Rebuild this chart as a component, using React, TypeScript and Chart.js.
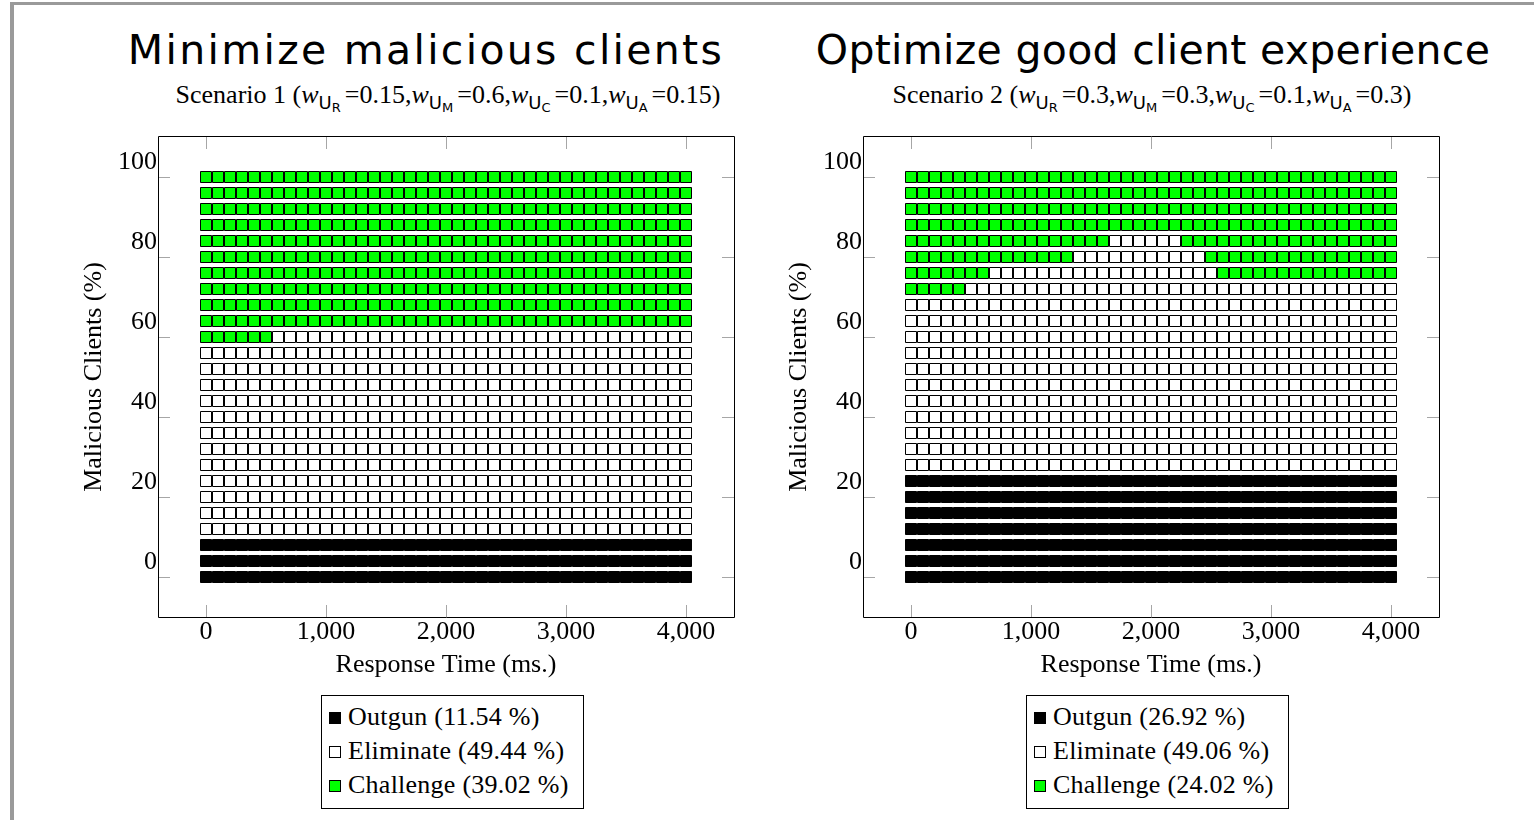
import React, { useEffect, useRef } from "react";
import { Chart, registerables } from "chart.js";

Chart.register(...registerables);

// ---------- data ----------
const responseTimes = [
  0, 100, 200, 300, 400, 500, 600, 700, 800, 900, 1000, 1100, 1200, 1300, 1400,
  1500, 1600, 1700, 1800, 1900, 2000, 2100, 2200, 2300, 2400, 2500, 2600, 2700,
  2800, 2900, 3000, 3100, 3200, 3300, 3400, 3500, 3600, 3700, 3800, 3900, 4000,
];
const maliciousLevels = [
  0, 4, 8, 12, 16, 20, 24, 28, 32, 36, 40, 44, 48, 52, 56, 60, 64, 68, 72, 76,
  80, 84, 88, 92, 96, 100,
];
const xTickValues = [0, 1000, 2000, 3000, 4000];
const yTickValues = [0, 20, 40, 60, 80, 100];

const categoryNames = ["Outgun", "Eliminate", "Challenge"];
const categoryCodes = ["O", "E", "C"];
const categoryColors = ["#000000", "#ffffff", "#00ff00"];

// rows listed from y = 0 up to y = 100; runs of cells along the response times
const scenario1Rows = [
  "O41", "O41", "O41",
  "E41", "E41", "E41", "E41", "E41", "E41", "E41", "E41", "E41", "E41", "E41", "E41",
  "C6 E35",
  "C41", "C41", "C41", "C41", "C41", "C41", "C41", "C41", "C41", "C41",
];
const scenario2Rows = [
  "O41", "O41", "O41", "O41", "O41", "O41", "O41",
  "E41", "E41", "E41", "E41", "E41", "E41", "E41", "E41", "E41", "E41", "E41",
  "C5 E36",
  "C7 E19 C15",
  "C14 E11 C16",
  "C17 E6 C18",
  "C41", "C41", "C41", "C41",
];

const titles = ["Minimize malicious clients", "Optimize good client experience"];
const scenarioNames = ["Scenario 1", "Scenario 2"];
const weightSubscripts = ["R", "M", "C", "A"];
const scenario1Weights = ["0.15", "0.6", "0.1", "0.15"];
const scenario2Weights = ["0.3", "0.3", "0.1", "0.3"];

const xAxisTitle = "Response Time (ms.)";
const yAxisTitle = "Malicious Clients (%)";

// ---------- helpers ----------
function decodeRow(spec: string): string[] {
  const out: string[] = [];
  spec.split(" ").forEach((run) => {
    const code = run[0];
    const n = parseInt(run.slice(1), 10);
    for (let i = 0; i < n; i++) out.push(code);
  });
  return out;
}

function buildDatasets(rows: string[]) {
  const grid = rows.map(decodeRow);
  return categoryCodes.map((code, ci) => {
    const data: { x: number; y: number }[] = [];
    grid.forEach((row, ri) => {
      row.forEach((c, xi) => {
        if (c === code) data.push({ x: responseTimes[xi], y: maliciousLevels[ri] });
      });
    });
    return {
      label: categoryNames[ci],
      data,
      pointStyle: "rect" as const,
      pointRadius: 5.5 / Math.SQRT1_2,
      pointHoverRadius: 5.5 / Math.SQRT1_2,
      pointBorderWidth: 1,
      pointHoverBorderWidth: 1,
      borderColor: "#000000",
      backgroundColor: categoryColors[ci],
      pointBackgroundColor: categoryColors[ci],
      pointBorderColor: "#000000",
      showLine: false,
    };
  });
}

function shares(rows: string[]) {
  const grid = rows.map(decodeRow);
  const total = grid.reduce((s, r) => s + r.length, 0);
  return categoryCodes.map((code) => {
    const n = grid.reduce((s, r) => s + r.filter((c) => c === code).length, 0);
    return ((n / total) * 100).toFixed(2);
  });
}

const SERIF = '"Liberation Serif", "Times New Roman", serif';
const SANS = '"DejaVu Sans", sans-serif';

const framePlugin = {
  id: "frameTicks",
  afterDraw(chart: any) {
    const { ctx, chartArea } = chart;
    const { left, right, top, bottom } = chartArea;
    const xs = chart.scales.x;
    const ys = chart.scales.y;
    ctx.save();
    ctx.strokeStyle = "#a6a6a6";
    ctx.lineWidth = 1;
    ctx.beginPath();
    xTickValues.forEach((v) => {
      const px = Math.round(xs.getPixelForValue(v)) + 0.5;
      ctx.moveTo(px, bottom);
      ctx.lineTo(px, bottom - 12);
      ctx.moveTo(px, top);
      ctx.lineTo(px, top + 12);
    });
    yTickValues.forEach((v) => {
      const py = Math.round(ys.getPixelForValue(v)) + 0.5;
      ctx.moveTo(left, py);
      ctx.lineTo(left + 12, py);
      ctx.moveTo(right, py);
      ctx.lineTo(right - 12, py);
    });
    ctx.stroke();
    ctx.strokeStyle = "#000000";
    ctx.beginPath();
    ctx.rect(left + 0.5, top - 0.5, right - left, bottom - top + 1);
    ctx.stroke();
    ctx.restore();
  },
};

function HeatChart({ rows, left, top }: { rows: string[]; left: number; top: number }) {
  const ref = useRef<HTMLCanvasElement | null>(null);
  useEffect(() => {
    if (!ref.current) return;
    const tickFont = { family: SERIF, size: 26, lineHeight: 1 };
    const titleFont = { family: SERIF, size: 26, lineHeight: 1.2 };
    const chart = new Chart(ref.current, {
      type: "scatter",
      data: { datasets: buildDatasets(rows) as any },
      options: {
        animation: false,
        responsive: false,
        maintainAspectRatio: false,
        devicePixelRatio: 1,
        layout: { padding: { left: 0, right: 26, top: 17, bottom: 0 } },
        plugins: {
          legend: { display: false },
          tooltip: { enabled: false },
          title: { display: false },
        },
        events: [],
        scales: {
          x: {
            type: "linear",
            min: -400,
            max: 4400,
            afterBuildTicks: (s: any) => {
              s.ticks = xTickValues.map((v) => ({ value: v }));
            },
            afterFit: (s: any) => {
              s.height = 83;
            },
            grid: { display: false, drawTicks: false },
            border: { display: false },
            ticks: {
              font: tickFont,
              color: "#000000",
              padding: 2,
              autoSkip: false,
              maxRotation: 0,
              callback: (v: any) => Number(v).toLocaleString("en-US"),
            },
            title: {
              display: true,
              text: xAxisTitle,
              color: "#000000",
              font: titleFont,
              padding: { top: 0, bottom: 19 },
            },
          },
          y: {
            type: "linear",
            min: -10,
            max: 110,
            afterBuildTicks: (s: any) => {
              s.ticks = yTickValues.map((v) => ({ value: v }));
            },
            afterFit: (s: any) => {
              s.width = 98;
            },
            grid: { display: false, drawTicks: false },
            border: { display: false },
            ticks: {
              font: tickFont,
              color: "#000000",
              padding: 1,
              autoSkip: false,
              labelOffset: -15,
            },
            title: {
              display: true,
              text: yAxisTitle,
              color: "#000000",
              font: titleFont,
              padding: { top: 19, bottom: 0 },
            },
          },
        },
      },
      plugins: [framePlugin],
    });
    return () => chart.destroy();
  }, [rows]);
  return (
    <canvas
      ref={ref}
      width={700}
      height={580}
      style={{ position: "absolute", left, top, width: 700, height: 580 }}
    />
  );
}

function Subtitle({ name, weights, center }: { name: string; weights: string[]; center: number }) {
  return (
    <div
      style={{
        position: "absolute",
        left: center,
        top: 82,
        transform: "translateX(-50%)",
        whiteSpace: "nowrap",
        fontFamily: SERIF,
        fontSize: 26,
        lineHeight: "26px",
        color: "#000",
      }}
    >
      {name} (
      {weights.map((w, i) => (
        <span key={i}>
          <i>w</i>
          <span style={{ fontFamily: SANS, fontSize: 18, position: "relative", top: 6 }}>
            U
            <span style={{ fontSize: 13, position: "relative", top: 3 }}>{weightSubscripts[i]}</span>
          </span>
          <span style={{ marginLeft: 4 }}>={w}</span>
          {i < weights.length - 1 ? "," : ""}
        </span>
      ))}
      )
    </div>
  );
}

function Legend({ rows, left }: { rows: string[]; left: number }) {
  const pct = shares(rows);
  return (
    <div
      style={{
        position: "absolute",
        left,
        top: 695,
        width: 263,
        height: 114,
        boxSizing: "border-box",
        border: "1px solid #000",
        background: "#fff",
      }}
    >
      {categoryNames.map((n, i) => (
        <div
          key={n}
          style={{
            position: "absolute",
            left: 0,
            top: 3 + i * 34,
            height: 34,
            width: 260,
          }}
        >
          <div
            style={{
              position: "absolute",
              left: 7,
              top: 13,
              width: 12,
              height: 12,
              boxSizing: "border-box",
              border: "1px solid #000",
              background: categoryColors[i],
            }}
          />
          <div
            style={{
              position: "absolute",
              left: 26,
              top: 1,
              fontFamily: SERIF,
              fontSize: 26,
              lineHeight: "34px",
              whiteSpace: "nowrap",
              letterSpacing: 0.25,
              color: "#000",
            }}
          >
            {n} ({pct[i]} %)
          </div>
        </div>
      ))}
    </div>
  );
}

function Title({ text, center, spacing }: { text: string; center: number; spacing: number }) {
  return (
    <div
      style={{
        position: "absolute",
        left: center,
        top: 30,
        transform: "translateX(-50%)",
        whiteSpace: "nowrap",
        fontFamily: SANS,
        fontSize: 41,
        lineHeight: "41px",
        letterSpacing: spacing,
        color: "#000",
      }}
    >
      {text}
    </div>
  );
}

export default function App() {
  return (
    <div
      style={{
        position: "absolute",
        left: 0,
        top: 0,
        width: 1534,
        height: 820,
        overflow: "hidden",
        background: "#fff",
      }}
    >
      <div style={{ position: "absolute", left: 10, top: 2, width: 1524, height: 3, background: "#9a9a9a" }} />
      <div style={{ position: "absolute", left: 10, top: 2, width: 4, height: 818, background: "#9a9a9a" }} />
      <Title text={titles[0]} center={426} spacing={2.3} />
      <Title text={titles[1]} center={1153} spacing={0.3} />
      <Subtitle name={scenarioNames[0]} weights={scenario1Weights} center={448} />
      <Subtitle name={scenarioNames[1]} weights={scenario2Weights} center={1152} />
      <HeatChart rows={scenario1Rows} left={60} top={120} />
      <HeatChart rows={scenario2Rows} left={765} top={120} />
      <Legend rows={scenario1Rows} left={321} />
      <Legend rows={scenario2Rows} left={1026} />
    </div>
  );
}
